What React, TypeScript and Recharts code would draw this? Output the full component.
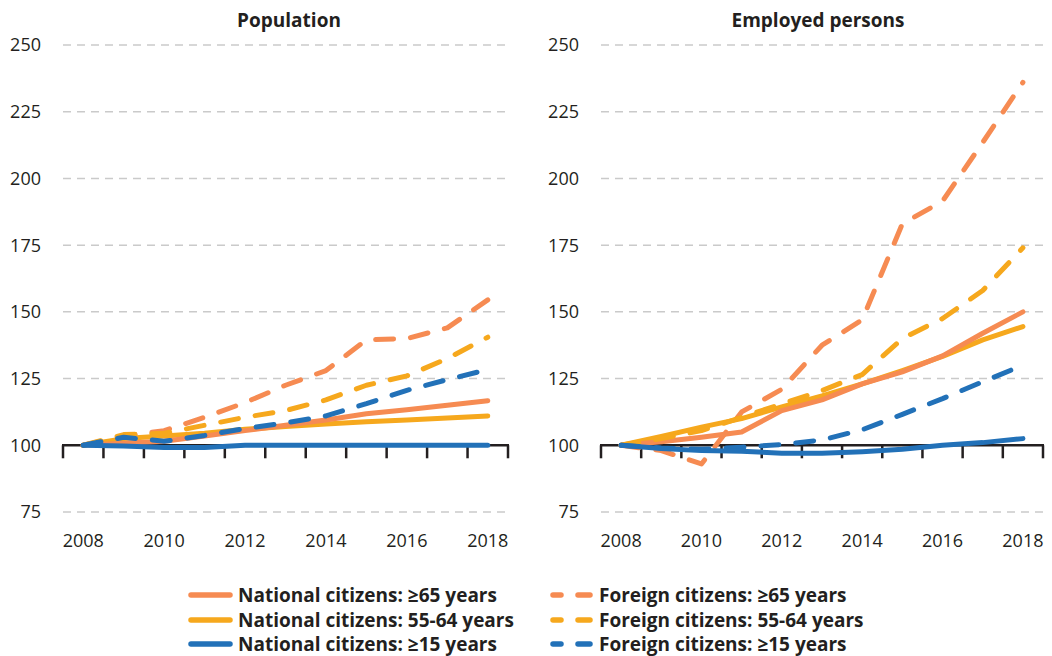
import React from 'react';
import { LineChart, Line, XAxis, YAxis, CartesianGrid, ReferenceLine } from 'recharts';

const years = [2008, 2009, 2010, 2011, 2012, 2013, 2014, 2015, 2016, 2017, 2018];
const xTickLabels = [2008, 2010, 2012, 2014, 2016, 2018];
const yTicks = [75, 100, 125, 150, 175, 200, 225, 250];

// Population
const popNat65 = [100, 100.8, 101.5, 103.5, 105.5, 107.5, 109.5, 111.8, 113.3, 115, 116.7];
const popNat5564 = [100, 102.5, 103.5, 104.5, 106, 107, 108, 108.8, 109.5, 110.2, 111];
const popNat15 = [100, 99.7, 99.2, 99.2, 100, 100, 100, 100, 100, 100, 100];
const popFor65 = [100, 103.5, 105.5, 110.5, 116, 122.5, 128, 139.5, 140, 144, 154.5];
const popFor5564 = [100, 104, 104.5, 107.5, 110.5, 113, 117, 122.5, 126, 132.5, 140.5];
const popFor15 = [100, 103, 101.5, 103.7, 106.3, 108.4, 111, 115.6, 120.6, 124.6, 128.4];

// Employed persons
const empNat65 = [100, 101.3, 103, 105, 113, 117, 123, 127.5, 133.5, 142, 150];
const empNat5564 = [100, 103.3, 106.8, 110, 114.4, 118.5, 123, 128, 133.3, 139.5, 144.5];
const empNat15 = [100, 98.8, 98, 97.8, 97, 97, 97.6, 98.5, 100, 101, 102.5];
const empFor65 = [100, 98, 93, 112.5, 121, 137.5, 147, 183, 191.5, 213.5, 236];
const empFor5564 = [100, 102.5, 105.5, 110.5, 115.5, 120.5, 126.5, 140, 147.5, 158, 174];
const empFor15 = [100, 99, 98.5, 99.3, 100.3, 102, 105.8, 111.6, 117.5, 123.8, 130];

const seriesLabels = [
  'National citizens: ≥65 years',
  'National citizens: 55-64 years',
  'National citizens: ≥15 years',
  'Foreign citizens: ≥65 years',
  'Foreign citizens: 55-64 years',
  'Foreign citizens: ≥15 years',
];

const ORANGE = '#F68B52';
const GOLD = '#F6A81D';
const BLUE = '#2271B8';
const FONT = '"Open Sans", "Noto Sans", sans-serif';
const TEXT = '#231F20';

const buildRows = (n65: number[], n5564: number[], n15: number[], f65: number[], f5564: number[], f15: number[]) =>
  years.map((y, i) => ({
    year: y,
    n65: n65[i],
    n5564: n5564[i],
    n15: n15[i],
    f65: f65[i],
    f5564: f5564[i],
    f15: f15[i],
  }));

const popData = buildRows(popNat65, popNat5564, popNat15, popFor65, popFor5564, popFor15);
const empData = buildRows(empNat65, empNat5564, empNat15, empFor65, empFor5564, empFor15);

const AxisWithTicks = (props: any) => {
  const { x1, x2, y1 } = props;
  const n = years.length;
  const step = (x2 - x1) / n;
  const marks = [];
  for (let i = 0; i <= n; i++) {
    const x = x1 + i * step;
    marks.push(<line key={i} x1={x} x2={x} y1={y1} y2={y1 + 13} stroke="#231F20" strokeWidth={2.5} />);
  }
  return (
    <g>
      <line x1={x1 - 1} x2={x2 + 1} y1={y1} y2={y1} stroke="#231F20" strokeWidth={2.5} />
      {marks}
    </g>
  );
};

const DASH = '18 17';

const Panel = ({ data, width, yAxisWidth, tickMargin, right }: any) => (
  <LineChart width={width} height={560} data={data} margin={{ top: 45, right, bottom: 0, left: 0 }}>
    <CartesianGrid horizontal vertical={false} stroke="#CACACA" strokeWidth={1.5} strokeDasharray="8 6" />
    <XAxis
      dataKey="year"
      type="number"
      domain={[2007.5, 2018.5]}
      ticks={xTickLabels}
      axisLine={false}
      tickLine={false}
      tickSize={0}
      tickMargin={22}
      height={48}
      interval={0}
      tick={{ fill: TEXT, fontSize: 18, fontFamily: FONT }}
    />
    <YAxis
      type="number"
      domain={[75, 250]}
      ticks={yTicks}
      axisLine={false}
      tickLine={false}
      tickSize={0}
      tickMargin={tickMargin}
      width={yAxisWidth}
      interval={0}
      tick={{ fill: TEXT, fontSize: 18, fontFamily: FONT }}
    />
    <ReferenceLine y={100} shape={AxisWithTicks} />
    <Line dataKey="n5564" stroke={GOLD} strokeWidth={5} dot={false} isAnimationActive={false} strokeLinejoin="round" strokeLinecap="round" />
    <Line dataKey="n65" stroke={ORANGE} strokeWidth={5} dot={false} isAnimationActive={false} strokeLinejoin="round" strokeLinecap="round" />
    <Line dataKey="f65" stroke={ORANGE} strokeWidth={5} strokeDasharray={DASH} dot={false} isAnimationActive={false} strokeLinejoin="round" strokeLinecap="round" />
    <Line dataKey="f5564" stroke={GOLD} strokeWidth={5} strokeDasharray={DASH} dot={false} isAnimationActive={false} strokeLinejoin="round" strokeLinecap="round" />
    <Line dataKey="f15" stroke={BLUE} strokeWidth={5} strokeDasharray={DASH} dot={false} isAnimationActive={false} strokeLinejoin="round" strokeLinecap="round" />
    <Line dataKey="n15" stroke={BLUE} strokeWidth={5} dot={false} isAnimationActive={false} strokeLinejoin="round" strokeLinecap="round" />
  </LineChart>
);

const legendColors = [ORANGE, GOLD, BLUE];

const LegendItem = ({ label, color, dashed, left, top }: any) => (
  <div style={{ position: 'absolute', left, top, height: 24, display: 'flex', alignItems: 'center' }}>
    <svg width={48} height={10} style={{ display: 'block' }}>
      {dashed ? (
        <g stroke={color} strokeWidth={5.5} strokeLinecap="round">
          <line x1={5} x2={13} y1={5} y2={5} />
          <line x1={30} x2={42} y1={5} y2={5} />
        </g>
      ) : (
        <line x1={4} x2={43} y1={5} y2={5} stroke={color} strokeWidth={5.5} strokeLinecap="round" />
      )}
    </svg>
    <span style={{ fontFamily: FONT, fontWeight: 700, fontSize: 19, color: TEXT, whiteSpace: 'nowrap', marginLeft: 3 }}>{label}</span>
  </div>
);

const Title = ({ text, cx }: any) => (
  <div
    style={{
      position: 'absolute',
      left: cx - 150,
      width: 300,
      top: 7,
      textAlign: 'center',
      fontFamily: FONT,
      fontWeight: 700,
      fontSize: 19,
      color: TEXT,
    }}
  >
    {text}
  </div>
);

export default function App() {
  return (
    <div style={{ position: 'absolute', left: 0, top: 0, width: 1052, height: 656, background: '#fff', overflow: 'hidden' }}>
      <div style={{ position: 'absolute', left: 0, top: 0 }}>
        <Panel data={popData} width={531} yAxisWidth={63} tickMargin={22} right={23} />
      </div>
      <div style={{ position: 'absolute', left: 530, top: 0 }}>
        <Panel data={empData} width={522} yAxisWidth={71} tickMargin={22} right={9} />
      </div>
      <Title text="Population" cx={289} />
      <Title text="Employed persons" cx={818} />
      {seriesLabels.slice(0, 3).map((l, i) => (
        <LegendItem key={l} label={l} color={legendColors[i]} dashed={false} left={187} top={583 + i * 24.5} />
      ))}
      {seriesLabels.slice(3).map((l, i) => (
        <LegendItem key={l} label={l} color={legendColors[i]} dashed left={548} top={583 + i * 24.5} />
      ))}
    </div>
  );
}
